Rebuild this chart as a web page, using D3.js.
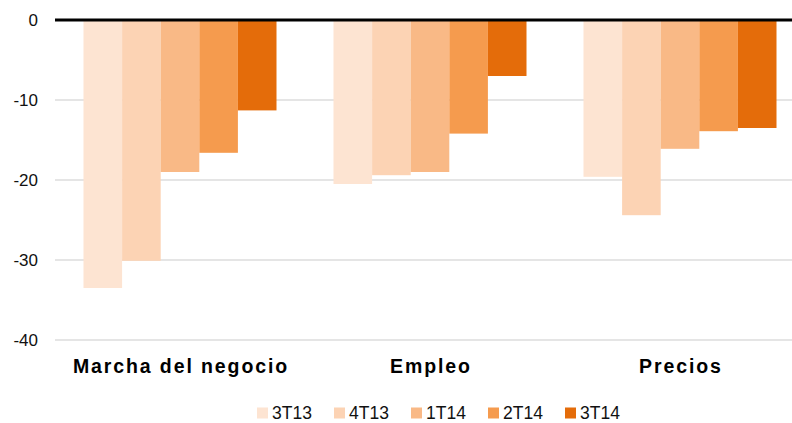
<!DOCTYPE html>
<html>
<head>
<meta charset="utf-8">
<script src="https://cdn.jsdelivr.net/npm/d3@7"></script>
<style>
  body { margin: 0; background: #fff; }
  text { font-family: "Liberation Sans", Arial, sans-serif; }
</style>
</head>
<body>
<svg id="chart"></svg>
<script>
const categories = ['Marcha del negocio', 'Empleo', 'Precios'];
const series = ['3T13', '4T13', '1T14', '2T14', '3T14'];
const values = {
  '3T13': [-33.5, -20.5, -19.6],
  '4T13': [-30.1, -19.4, -24.4],
  '1T14': [-19.0, -19.0, -16.1],
  '2T14': [-16.6, -14.2, -13.9],
  '3T14': [-11.3, -7.0, -13.5]
};
const colorList = ['#fde4d2', '#fcd3b4', '#f9b986', '#f59b4e', '#e46c0a'];
const yTicks = [0, -10, -20, -30, -40];

const width = 792;
const height = 423;

const svg = d3.select('#chart')
  .attr('width', width)
  .attr('height', height);

const x0 = d3.scaleBand()
  .domain(categories)
  .range([55, 805])
  .paddingInner(0.228)
  .paddingOuter(0.114);

const x1 = d3.scaleBand()
  .domain(series)
  .range([0, x0.bandwidth()]);

const y = d3.scaleLinear()
  .domain([-40, 0])
  .range([340, 20]);

const color = d3.scaleOrdinal()
  .domain(series)
  .range(colorList);

// gridlines
svg.append('g')
  .selectAll('line')
  .data(yTicks.filter(d => d !== 0))
  .enter()
  .append('line')
  .attr('x1', 55)
  .attr('x2', width)
  .attr('y1', d => y(d))
  .attr('y2', d => y(d))
  .attr('stroke', '#dcdcdc')
  .attr('stroke-width', 1.5);

// y labels
svg.append('g')
  .selectAll('text')
  .data(yTicks)
  .enter()
  .append('text')
  .attr('x', 38)
  .attr('y', d => y(d) + 6)
  .attr('text-anchor', 'end')
  .attr('font-size', 17)
  .attr('fill', '#111')
  .text(d => d);

// bars
const rows = [];
categories.forEach((c, i) => {
  series.forEach(s => rows.push({ cat: c, s: s, v: values[s][i] }));
});

svg.append('g')
  .selectAll('rect')
  .data(rows)
  .enter()
  .append('rect')
  .attr('x', d => x0(d.cat) + x1(d.s))
  .attr('width', x1.bandwidth())
  .attr('y', y(0))
  .attr('height', d => y(d.v) - y(0))
  .attr('fill', d => color(d.s));

// zero line
svg.append('line')
  .attr('x1', 55)
  .attr('x2', width)
  .attr('y1', y(0))
  .attr('y2', y(0))
  .attr('stroke', '#000')
  .attr('stroke-width', 3);

// category labels
svg.append('g')
  .selectAll('text')
  .data(categories)
  .enter()
  .append('text')
  .attr('x', d => x0(d) + x0.bandwidth() / 2 + 1)
  .attr('y', 373)
  .attr('text-anchor', 'middle')
  .attr('font-size', 19.5)
  .attr('font-weight', 'bold')
  .attr('letter-spacing', 1.9)
  .attr('fill', '#000')
  .text(d => d);

// legend
const legend = svg.append('g')
  .selectAll('g')
  .data(series)
  .enter()
  .append('g')
  .attr('transform', (d, i) => `translate(${257 + i * 77}, 407.5)`);

legend.append('rect')
  .attr('width', 11)
  .attr('height', 11)
  .attr('fill', d => color(d));

legend.append('text')
  .attr('x', 15)
  .attr('y', 11.5)
  .attr('font-size', 17.5)
  .attr('fill', '#111')
  .text(d => d);
</script>
</body>
</html>
